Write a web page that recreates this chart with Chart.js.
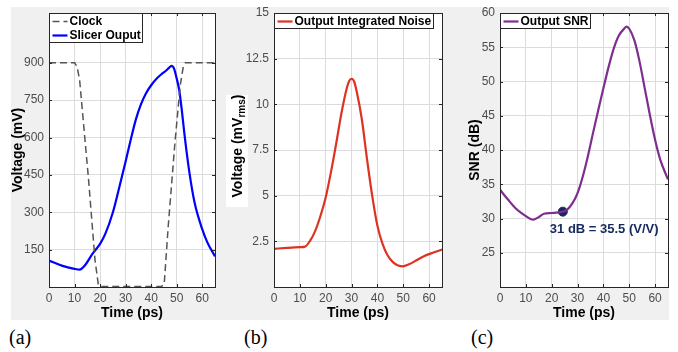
<!DOCTYPE html>
<html>
<head>
<meta charset="utf-8">
<script src="https://cdn.jsdelivr.net/npm/chart.js@4.4.0/dist/chart.umd.min.js"></script>
<style>
body{margin:0;background:#fff;width:678px;height:352px;overflow:hidden;position:relative;font-family:"Liberation Sans",Arial,sans-serif}
#bg{position:absolute;left:11px;top:7px;width:658px;height:313px;background:#f0f0f0}
canvas{position:absolute;top:0}
.lab{position:absolute;top:326px;font:20px "Liberation Serif","Times New Roman",serif;color:#000}
#ytb{position:absolute;left:226px;top:95px;width:22px;height:112px;background:#fff}
#ytbText{position:absolute;left:238px;top:146px;transform:translate(-50%,-50%) rotate(-90deg);white-space:nowrap;font:bold 14px "Liberation Sans",Arial,sans-serif;color:#000}
#ytbText sub{font-size:10px}
</style>
</head>
<body>
<div id="bg"></div>
<canvas id="chartA" width="230" height="322" style="left:0"></canvas>
<canvas id="chartB" width="230" height="322" style="left:225px"></canvas>
<canvas id="chartC" width="228" height="322" style="left:450px"></canvas>
<div id="ytb"></div>
<div id="ytbText">Voltage (mV<sub>rms</sub>)</div>
<div class="lab" style="left:9px">(a)</div>
<div class="lab" style="left:244px">(b)</div>
<div class="lab" style="left:471px">(c)</div>
<script>
// data
const timeTicks=[0,10,20,30,40,50,60]

const clockT=[0,10,11,12,15.5,18,19.3,20,44,45.1,46.7,49.4,51.4,52.5,53.4,65]
const clockV=[900,900,885,830,430,110,10,2,2,10,246,590,810,880,900,900]

const slicerT=[0,5,10,12,14,17,20,22,25,27,30,32,34,36,38,40,42,44,46,47,48,49,50,51,52,53,55,57,60,62,65]
const slicerV=[106,86,73,70,86,133,173,212,299,378,504,591,672,733,778,810,835,854,870,880,888,876,837,790,710,617,458,339,232,179,123]
const voltTicks=[150,300,450,600,750,900]

const noiseT=[0,5,10,12,14,16,18,20,22,24,26,28,29,30,31,32,34,36,38,40,42,44,46,48,50,52,55,58,62,65]
const noiseV=[2.09,2.14,2.18,2.21,2.54,3.09,3.9,4.9,6.26,7.8,9.44,10.8,11.25,11.4,11.25,10.7,9.17,6.99,4.99,3.36,2.36,1.72,1.36,1.18,1.13,1.23,1.45,1.69,1.9,2.05]
const noiseTicks=[2.5,5,7.5,10,12.5,15]

const snrT=[0,3,6,9,12,13,15,17,20,24.3,26,28,30,32,34,36,38,40,42,44,46,48,49,50,52,54,56,58,60,62,65]
const snrV=[34.2,32.8,31.5,30.6,29.9,29.85,30.2,30.7,30.8,31.0,31.3,32.2,33.7,36.1,39.1,42.5,45.8,49.0,52.1,54.8,56.7,57.7,58.0,57.7,56.0,52.9,49.0,45.1,41.5,38.6,35.7]
const snrTicks=[25,30,35,40,45,50,55,60]

const markT=[24.3]
const markV=[31]
const markNote='31 dB = 35.5 (V/V)'

const pts=(t,v)=>t.map((x,i)=>({x:x,y:v[i]}))
const FONT='"Liberation Sans", Arial, sans-serif'
Chart.defaults.font.family=FONT

//white plot area, box with inward ticks, legend, note
const plotBox={
    id:'plotBox',
    beforeDraw(c){
        const {ctx,chartArea:a}=c
        ctx.save()
        ctx.fillStyle='#fff'
        ctx.fillRect(a.left,a.top,a.width,a.height)
        ctx.restore()
    },
    afterDatasetsDraw(c){
        const {ctx,chartArea:a,scales}=c
        ctx.save()
        ctx.strokeStyle='#262626'
        ctx.lineWidth=1
        ctx.beginPath()
        scales.x.ticks.forEach(t=>{
            const p=Math.round(scales.x.getPixelForValue(t.value))+0.5
            ctx.moveTo(p,a.bottom);ctx.lineTo(p,a.bottom-3)
            ctx.moveTo(p,a.top);ctx.lineTo(p,a.top+3)
        })
        scales.y.ticks.forEach(t=>{
            const p=Math.round(scales.y.getPixelForValue(t.value))+0.5
            ctx.moveTo(a.left,p);ctx.lineTo(a.left+3,p)
            ctx.moveTo(a.right,p);ctx.lineTo(a.right-3,p)
        })
        ctx.stroke()
        ctx.strokeRect(Math.round(a.left)+0.5,Math.round(a.top)+0.5,Math.round(a.width),Math.round(a.height))

        // note next to marker
        c.data.datasets.forEach((d,i)=>{
            if(!d.note) return
            const p=c.getDatasetMeta(i).data[0]
            ctx.fillStyle=d.backgroundColor
            ctx.font='bold 13px '+FONT
            ctx.textAlign='left'
            ctx.textBaseline='middle'
            ctx.fillText(d.note,p.x-13,p.y+18)
        })

        // legend box
        const items=c.data.datasets.filter(d=>!d.note)
        ctx.font='bold 12px '+FONT
        let w=0
        items.forEach(d=>{w=Math.max(w,ctx.measureText(d.label).width)})
        const bx=Math.round(a.left)+0.5,by=Math.round(a.top)+0.5
        const bw=Math.round(w+22),bh=items.length*14+1
        ctx.fillStyle='#fff'
        ctx.fillRect(bx,by,bw,bh)
        ctx.strokeStyle='#262626'
        ctx.strokeRect(bx,by,bw,bh)
        items.forEach((d,i)=>{
            const y=by+8+i*14
            ctx.strokeStyle=d.borderColor
            ctx.lineWidth=d.borderWidth
            ctx.setLineDash(d.borderDash||[])
            ctx.beginPath();ctx.moveTo(bx+3,y);ctx.lineTo(bx+18,y);ctx.stroke()
            ctx.setLineDash([])
            ctx.fillStyle='#000'
            ctx.textAlign='left'
            ctx.textBaseline='middle'
            ctx.fillText(d.label,bx+20,y)
        })
        ctx.restore()
    }
}

function xAxis(){
    return {
        type:'linear',min:0,max:65,
        afterBuildTicks:s=>{s.ticks=timeTicks.map(v=>({value:v}))},
        afterFit:s=>{s.height=35},
        grid:{color:'#dcdcdc',drawTicks:false},
        border:{display:false},
        ticks:{color:'#4d4d4d',font:{size:12},padding:4,callback:v=>String(v)},
        title:{display:true,text:'Time (ps)',color:'#000',font:{size:14,weight:'bold'},padding:0}
    }
}
function yAxis(min,max,ticks,title,w){
    return {
        type:'linear',min:min,max:max,
        afterBuildTicks:s=>{s.ticks=ticks.map(v=>({value:v}))},
        afterFit:s=>{s.width=w},
        grid:{color:'#dcdcdc',drawTicks:false},
        border:{display:false},
        ticks:{color:'#4d4d4d',font:{size:12},padding:5,callback:v=>String(v)},
        title:{display:!!title,text:title,color:'#000',font:{size:14,weight:'bold'},padding:0}
    }
}
function opts(pad,y){
    return {
        responsive:false,animation:false,devicePixelRatio:1,
        layout:{padding:pad},
        plugins:{legend:{display:false},tooltip:{enabled:false}},
        elements:{point:{radius:0}},
        scales:{x:xAxis(),y:y}
    }
}

new Chart(document.querySelector('#chartA'),{
    type:'line',
    data:{datasets:[
        {label:'Clock',data:pts(clockT,clockV),borderColor:'#555555',borderWidth:1.5,borderDash:[7,4],tension:0},
        {label:'Slicer Ouput',data:pts(slicerT,slicerV),borderColor:'#0000ff',borderWidth:2.2,cubicInterpolationMode:'monotone'}
    ]},
    options:opts({left:10,top:13,right:15,bottom:0},yAxis(0,1100,voltTicks,'Voltage (mV)',39)),
    plugins:[plotBox]
})

new Chart(document.querySelector('#chartB'),{
    type:'line',
    data:{datasets:[
        {label:'Output Integrated Noise',data:pts(noiseT,noiseV),borderColor:'#dd3322',borderWidth:2.2,cubicInterpolationMode:'monotone'}
    ]},
    options:opts({left:10,top:13,right:13,bottom:0},yAxis(0,15,noiseTicks,'',39)),
    plugins:[plotBox]
})

new Chart(document.querySelector('#chartC'),{
    type:'line',
    data:{datasets:[
        {label:'Output SNR',data:pts(snrT,snrV),borderColor:'#7e2f8e',borderWidth:2.2,cubicInterpolationMode:'monotone'},
        {label:'marker',data:pts(markT,markV),showLine:false,pointRadius:4.5,backgroundColor:'#16295e',borderColor:'#16295e',note:markNote}
    ]},
    options:opts({left:17,top:13,right:10,bottom:0},yAxis(20,60,snrTicks,'SNR (dB)',33)),
    plugins:[plotBox]
})
</script>
</body>
</html>
